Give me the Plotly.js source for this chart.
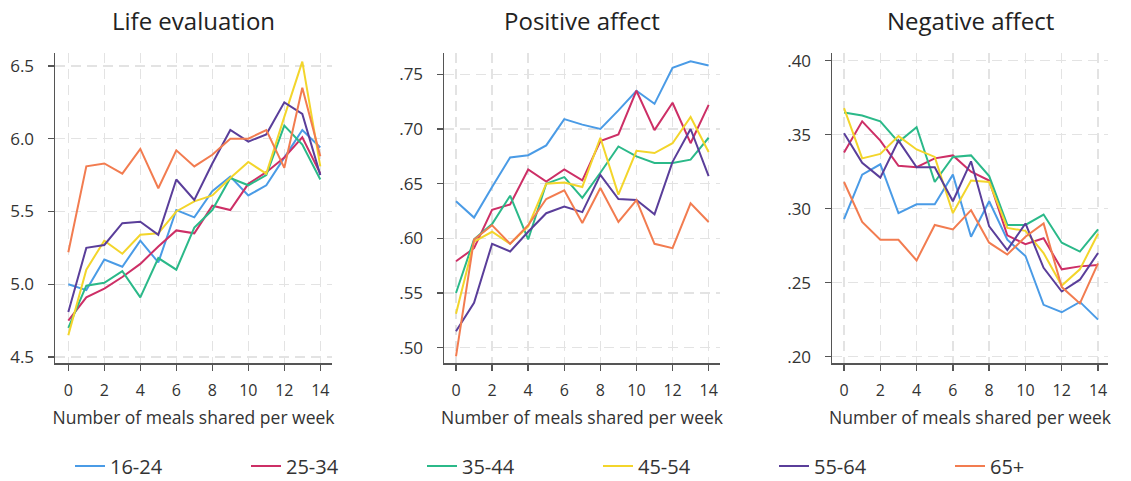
<!DOCTYPE html>
<html>
<head>
<meta charset="utf-8">
<script src="https://cdn.plot.ly/plotly-3.0.1.min.js"></script>
<style>html,body{margin:0;padding:0;background:#fff}#chart{width:1131px;height:481px}</style>
</head>
<body>
<div id="chart"></div>
<script>
// ---- data ----
const meals = [0,1,2,3,4,5,6,7,8,9,10,11,12,13,14];
const groups = ["16-24","25-34","35-44","45-54","55-64","65+"];
const colors = ["#4a9be6","#cd2f66","#2bb989","#f3d52b","#5a3e9a","#f27c50"];

const panelTitles = ["Life evaluation","Positive affect","Negative affect"];
const xAxisTitle = "Number of meals shared per week";

const life_16_24 = [5.00,4.96,5.17,5.12,5.30,5.15,5.51,5.46,5.64,5.74,5.61,5.68,5.87,6.06,5.94];
const life_25_34 = [4.75,4.91,4.97,5.05,5.14,5.26,5.37,5.35,5.54,5.51,5.69,5.77,5.87,6.01,5.76];
const life_35_44 = [4.70,4.99,5.01,5.09,4.91,5.18,5.10,5.39,5.51,5.73,5.68,5.75,6.09,5.96,5.72];
const life_45_54 = [4.65,5.10,5.30,5.21,5.34,5.35,5.50,5.57,5.61,5.73,5.84,5.76,6.15,6.53,5.81];
const life_55_64 = [4.81,5.25,5.27,5.42,5.43,5.34,5.72,5.58,5.83,6.06,5.98,6.03,6.25,6.17,5.75];
const life_65    = [5.22,5.81,5.83,5.76,5.93,5.66,5.92,5.81,5.89,6.00,6.00,6.06,5.80,6.35,5.88];

const pos_16_24 = [.634,.619,.647,.674,.676,.685,.709,.704,.700,.717,.735,.723,.756,.762,.758];
const pos_25_34 = [.579,.591,.626,.631,.663,.652,.663,.653,.689,.695,.735,.699,.724,.687,.722];
const pos_35_44 = [.550,.599,.613,.639,.599,.650,.656,.637,.660,.684,.675,.669,.669,.672,.692];
const pos_45_54 = [.531,.597,.606,.595,.611,.650,.651,.647,.692,.640,.680,.678,.687,.711,.679];
const pos_55_64 = [.515,.541,.595,.588,.606,.623,.629,.624,.658,.636,.635,.622,.670,.700,.657];
const pos_65    = [.492,.599,.612,.595,.612,.636,.644,.614,.646,.615,.635,.595,.591,.632,.615];

const neg_16_24 = [.293,.323,.330,.297,.303,.303,.323,.281,.305,.279,.268,.235,.230,.237,.225];
const neg_25_34 = [.338,.359,.346,.329,.328,.334,.336,.325,.319,.282,.276,.280,.259,.261,.262];
const neg_35_44 = [.365,.363,.359,.345,.355,.318,.335,.336,.322,.289,.289,.296,.277,.271,.286];
const neg_45_54 = [.368,.334,.337,.349,.340,.335,.297,.319,.318,.287,.285,.270,.248,.259,.283];
const neg_55_64 = [.351,.331,.321,.346,.328,.328,.305,.332,.288,.272,.290,.260,.244,.252,.270];
const neg_65    = [.318,.291,.279,.279,.265,.289,.286,.299,.277,.269,.281,.290,.247,.236,.263];

const xTickVals = [0,2,4,6,8,10,12,14];
const lifeTickVals = [4.5,5.0,5.5,6.0,6.5];
const lifeTickText = ["4.5","5.0","5.5","6.0","6.5"];
const posTickVals = [.50,.55,.60,.65,.70,.75];
const posTickText = [".50",".55",".60",".65",".70",".75"];
const negTickVals = [.20,.25,.30,.35,.40];
const negTickText = [".20",".25",".30",".35",".40"];

const panels = [
  [life_16_24,life_25_34,life_35_44,life_45_54,life_55_64,life_65],
  [pos_16_24,pos_25_34,pos_35_44,pos_45_54,pos_55_64,pos_65],
  [neg_16_24,neg_25_34,neg_35_44,neg_45_54,neg_55_64,neg_65]
];

// ---- layout helpers ----
const W = 1131, H = 481;
const FONT = "'Open Sans', sans-serif";
const px = v => v / W;
const py = v => (H - v) / H;

const xDom = [[55,332],[444,720],[832,1108]];
const xRanges = [[-0.74,14.65],[-0.665,14.63],[-0.663,14.55]];
const yRanges = [[4.459,6.589],[0.486,0.7695],[0.1957,0.4052]];
const yTicks = [[lifeTickVals,lifeTickText],[posTickVals,posTickText],[negTickVals,negTickText]];

const traces = [];
panels.forEach((series, p) => {
  series.forEach((vals, g) => {
    traces.push({
      type: "scatter", mode: "lines",
      x: meals, y: vals,
      name: groups[g],
      legendgroup: groups[g],
      showlegend: p === 0,
      line: {color: colors[g], width: 2},
      xaxis: p === 0 ? "x" : "x" + (p + 1),
      yaxis: p === 0 ? "y" : "y" + (p + 1),
      hoverinfo: "skip"
    });
  });
});

const layout = {
  width: W, height: H,
  margin: {l:0, r:0, t:0, b:0, autoexpand: false},
  paper_bgcolor: "#fff", plot_bgcolor: "#fff",
  font: {family: FONT, color: "#333"},
  showlegend: true,
  legend: {
    orientation: "h", x: px(70), xanchor: "left", y: py(466), yanchor: "middle",
    entrywidth: 131, entrywidthmode: "pixels",
    font: {family: FONT, size: 20, color: "#333"},
    itemwidth: 30, tracegroupgap: 0
  },
  annotations: []
};

for (let p = 0; p < 3; p++) {
  const xa = {
    domain: [px(xDom[p][0]), px(xDom[p][1])],
    range: xRanges[p],
    anchor: p === 0 ? "y" : "y" + (p + 1),
    tickvals: xTickVals,
    ticks: "outside", ticklen: 6, tickwidth: 1.5, tickcolor: "#555",
    showline: true, linecolor: "#555", linewidth: 1.5,
    showgrid: true, gridcolor: "#e3e3e3", gridwidth: 1.5, griddash: "10px,6px",
    zeroline: false,
    tickfont: {family: FONT, size: 16, color: "#333"},
    ticklabelstandoff: 6,
    title: {text: xAxisTitle, font: {family: FONT, size: 17.5, color: "#333"}, standoff: 12},
    fixedrange: true
  };
  const ya = {
    domain: [py(363), py(53)],
    range: yRanges[p],
    anchor: p === 0 ? "x" : "x" + (p + 1),
    tickvals: yTicks[p][0], ticktext: yTicks[p][1],
    ticks: "outside", ticklen: 6, tickwidth: 1.5, tickcolor: "#555",
    showline: true, linecolor: "#555", linewidth: 1.5,
    showgrid: true, gridcolor: "#e3e3e3", gridwidth: 1.5, griddash: "10px,6px",
    zeroline: false,
    tickfont: {family: FONT, size: 17, color: "#333"},
    ticklabelstandoff: 10,
    fixedrange: true
  };
  layout[p === 0 ? "xaxis" : "xaxis" + (p + 1)] = xa;
  layout[p === 0 ? "yaxis" : "yaxis" + (p + 1)] = ya;
  layout.annotations.push({
    text: panelTitles[p], xref: "paper", yref: "paper",
    x: px((xDom[p][0] + xDom[p][1]) / 2), y: py(20),
    xanchor: "center", yanchor: "middle", showarrow: false,
    font: {family: FONT, size: 24, color: "#222"}
  });
}

Plotly.newPlot("chart", traces, layout, {displayModeBar: false, staticPlot: true});
</script>
</body>
</html>
